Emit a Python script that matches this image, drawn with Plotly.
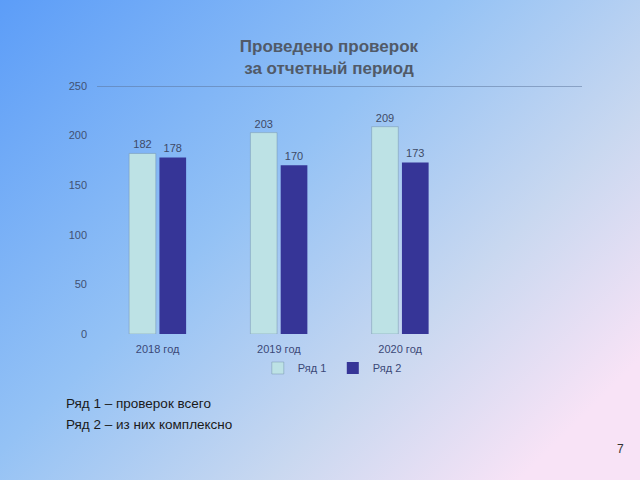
import plotly.graph_objects as go

categories = ["2018 год", "2019 год", "2020 год"]
series1 = [182, 203, 209]
series2 = [178, 170, 173]
series_names = ["Ряд 1", "Ряд 2"]
y_ticks = [0, 50, 100, 150, 200, 250]

title_text = "<b>Проведено проверок<br>за отчетный период</b>"
note_lines = ["Ряд 1 – проверок всего", "Ряд 2 – из них комплексно"]
page_number = "7"

FONT = "Liberation Sans, Arial, sans-serif"

svg = (
    "<svg xmlns='http://www.w3.org/2000/svg' width='640' height='480' preserveAspectRatio='none'>"
    "<defs><linearGradient id='g' x1='0' y1='0' x2='1' y2='0.75'>"
    "<stop offset='0' stop-color='%235c9df8'/>"
    "<stop offset='0.45' stop-color='%2394c2f5'/>"
    "<stop offset='0.75' stop-color='%23c9d8f0'/>"
    "<stop offset='1' stop-color='%23f8e3f6'/>"
    "</linearGradient></defs>"
    "<rect width='640' height='480' fill='url(%23g)'/></svg>"
)
bg_uri = "data:image/svg+xml;utf8," + svg

fig = go.Figure()
fig.add_trace(go.Bar(
    x=categories, y=series1, name=series_names[0],
    marker=dict(color="#bde2e5", line=dict(color="rgba(110,140,165,0.55)", width=0.8)),
    text=series1, textposition="outside",
    textfont=dict(size=11, color="#3e4a66", family=FONT),
    cliponaxis=False,
))
fig.add_trace(go.Bar(
    x=categories, y=series2, name=series_names[1],
    marker=dict(color="#363597", line=dict(width=0)),
    text=series2, textposition="outside",
    textfont=dict(size=11, color="#3e4a66", family=FONT),
    cliponaxis=False,
))

fig.update_layout(
    width=640, height=480,
    margin=dict(l=0, r=0, t=0, b=0, autoexpand=False),
    paper_bgcolor="rgba(0,0,0,0)",
    plot_bgcolor="rgba(0,0,0,0)",
    barmode="group", bargap=0.5, bargroupgap=0.12,
    font=dict(family=FONT),
    title=dict(text=title_text, x=0.514, xanchor="center", y=1-52/480, yanchor="middle",
               font=dict(size=17, color="#515a68", family=FONT)),
    xaxis=dict(domain=[97/640, 582/640], range=[-0.5, 3.5], showgrid=False, showline=False,
               zeroline=False, ticks="", tickfont=dict(size=11, color="#3b4877"),
               ticklabelstandoff=7, fixedrange=True, automargin=False),
    yaxis=dict(domain=[146/480, 394/480], range=[0, 250], tickvals=y_ticks, showgrid=False,
               zeroline=False, showline=False, ticks="", automargin=False,
               tickfont=dict(size=11, color="#415173"), ticklabelstandoff=9),
    legend=dict(orientation="h", x=0.52, xanchor="center", y=1-368/480, yanchor="middle",
                font=dict(size=11, color="#3b4877"), bgcolor="rgba(0,0,0,0)",
                itemwidth=30, entrywidth=30, traceorder="normal"),
    showlegend=True,
    images=[dict(source=bg_uri, xref="paper", yref="paper", x=0, y=1, sizex=1, sizey=1,
                 sizing="stretch", xanchor="left", yanchor="top", layer="below")],
    shapes=[dict(type="line", xref="paper", yref="y", x0=97/640, x1=582/640, y0=250, y1=250,
                 line=dict(color="#5a7398", width=1))],
)

fig.add_annotation(text=note_lines[0], xref="paper", yref="paper", x=64/640, y=1-403/480,
                   xanchor="left", yanchor="middle", showarrow=False,
                   font=dict(size=13.5, color="#1a1a1a", family=FONT))
fig.add_annotation(text=note_lines[1], xref="paper", yref="paper", x=64/640, y=1-424/480,
                   xanchor="left", yanchor="middle", showarrow=False,
                   font=dict(size=13.5, color="#1a1a1a", family=FONT))
fig.add_annotation(text=page_number, xref="paper", yref="paper", x=620/640, y=1-449/480,
                   xanchor="center", yanchor="middle", showarrow=False,
                   font=dict(size=12, color="#333333", family=FONT))

fig.write_html("out.html")
